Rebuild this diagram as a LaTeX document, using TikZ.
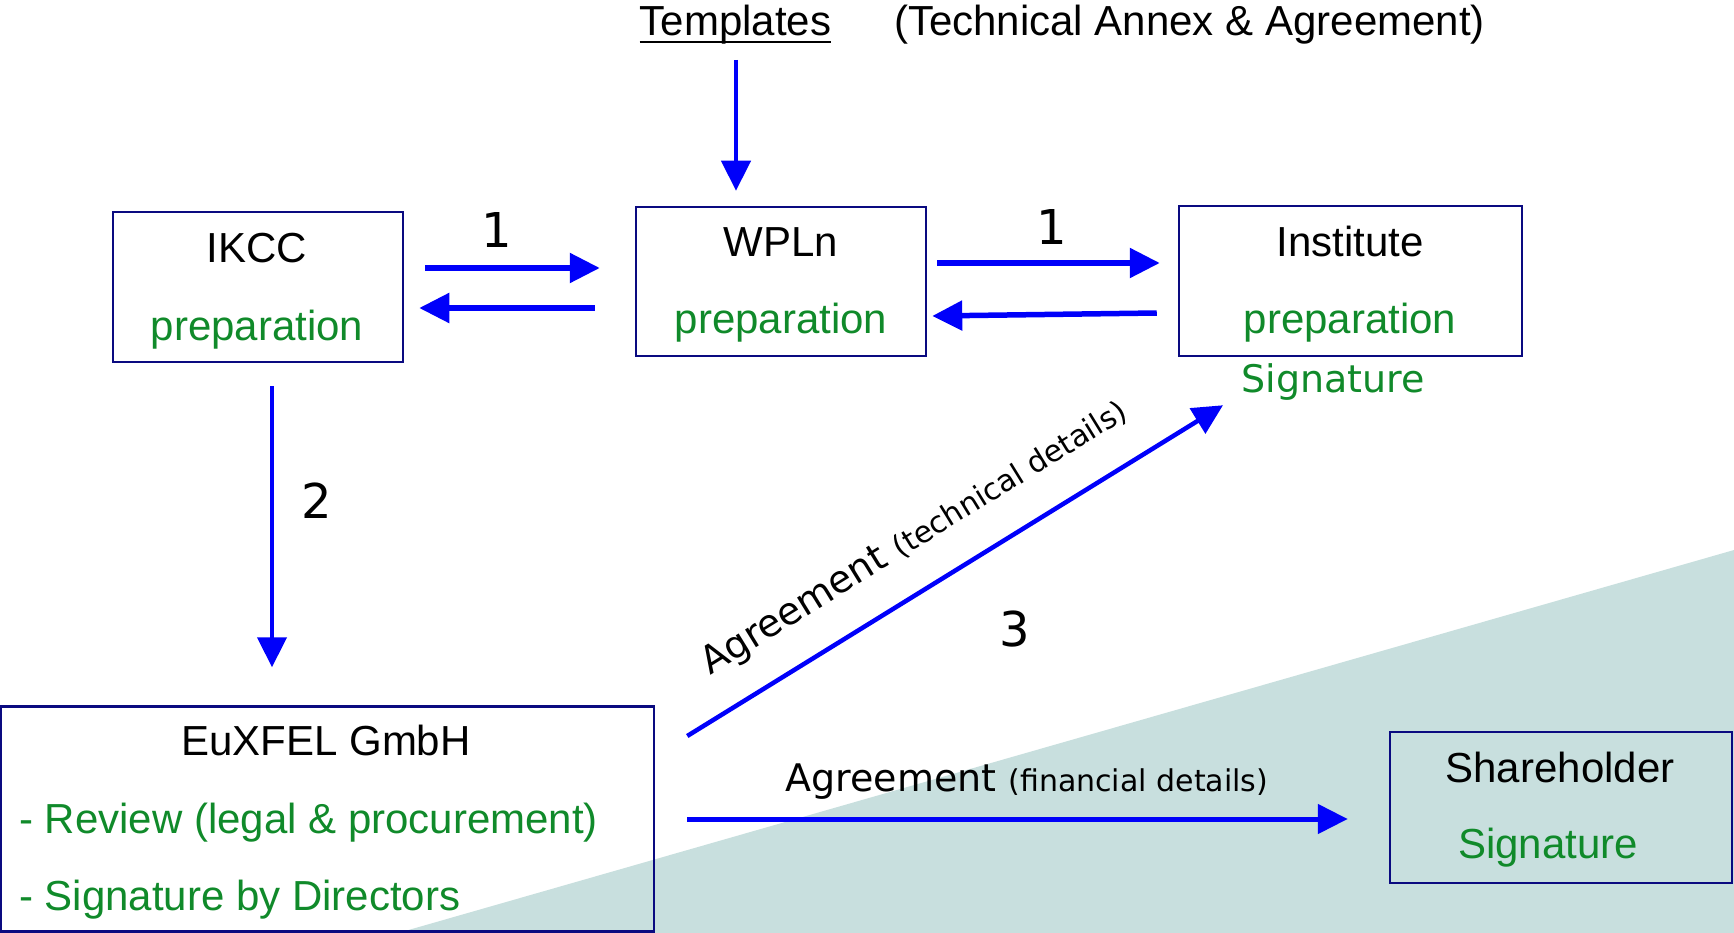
\documentclass[tikz,border=0pt]{standalone}
\usepackage{fontspec}
\setmainfont{Liberation Sans}
\newfontfamily\handfont{DejaVu Sans}
\usetikzlibrary{arrows.meta,calc}
\definecolor{navyline}{RGB}{10,10,128}
\definecolor{arrowblue}{RGB}{0,0,250}
\definecolor{textgreen}{RGB}{16,138,42}
\definecolor{tealbg}{RGB}{200,223,222}
\begin{document}
\begin{tikzpicture}[x=1pt,y=-1pt,
  box/.style={draw=navyline, line width=2.5pt, inner sep=0pt},
  txt/.style={font=\fontsize{42}{50}\selectfont, inner sep=0pt, anchor=base},
  grn/.style={txt, text=textgreen},
  hand/.style={font=\handfont\fontsize{38}{46}\selectfont, inner sep=0pt, anchor=base},
  num/.style={font=\handfont\fontsize{48}{56}\selectfont, inner sep=0pt, anchor=base},
  arr/.style={draw=arrowblue, line width=5.5pt, -{Triangle[length=30pt,width=29pt]}},
]
\useasboundingbox (0,0) rectangle (1734,933);
\fill[tealbg] (398,933) -- (1734,550) -- (1734,933) -- cycle;

% boxes
\node[box, minimum width=290pt, minimum height=150pt] (ikcc) at (258,287) {};
\node[box, minimum width=290pt, minimum height=149pt] (wpln) at (781,281.5) {};
\node[box, minimum width=343pt, minimum height=150pt] (inst) at (1350.5,281) {};
\node[box, minimum width=653pt, minimum height=225pt] (eux) at (327.5,819) {};
\node[box, minimum width=342pt, minimum height=151pt] (share) at (1561,807.5) {};

% box texts
\node[txt] (ikcct) at (257,263) {IKCC};
\node[grn] (ikccp) at (257,340) {preparation};
\node[txt] (wplnt) at (781,257) {WPLn};
\node[grn] (wplnp) at (781,333) {preparation};
\node[txt] (instt) at (1350,257) {Institute};
\node[grn] (instp) at (1350,333) {preparation};
\node[hand, text=textgreen] (instsig) at (1333,392) {Signature};
\node[txt] (euxt) at (326,755) {EuXFEL GmbH};
\node[grn, anchor=base west] (euxr) at (19,833) {- Review (legal \& procurement)};
\node[grn, anchor=base west] (euxs) at (19,910) {- Signature by Directors};
\node[txt] (sht) at (1560,782) {Shareholder};
\node[grn] (shs) at (1548,858) {Signature};

% header
\node[txt] (tmpl) at (735.5,36) {Templates};
\draw[line width=2.5pt] ($(tmpl.base west)+(0,6)$) -- ($(tmpl.base east)+(0,6)$);
\node[txt] (annex) at (1189.5,36) {(Technical Annex \& Agreement)};

% arrows
\draw[arr, line width=4.5pt] ($(tmpl.base)+(0.5,24)$) -- ($(wpln.north)+(-45,-15)$);
\draw[arr] ($(ikcc.east)+(21,-19)$) -- ($(wpln.west)+(-35,-13.5)$);
\draw[arr] ($(wpln.west)+(-40,26.5)$) -- ($(ikcc.east)+(15,21)$);
\draw[arr] ($(wpln.east)+(10,-18.5)$) -- ($(inst.west)+(-18,-18)$);
\draw[arr] ($(inst.west)+(-21,32)$) -- ($(wpln.east)+(5,34.5)$);
\draw[arr, line width=4.5pt] ($(ikcc.south)+(14,23)$) -- ($(eux.north)+(-55.5,-38)$);
\draw[arr, line width=4.5pt] ($(eux.east)+(32,-83)$) -- ($(inst.south)+(-127.5,48)$)
  node[pos=0.4725, sloped, above=29pt, font=\handfont\fontsize{38}{46}\selectfont, inner sep=0pt] (techlbl)
  {Agreement {\fontsize{30}{36}\selectfont(technical details)}};
\draw[arr, line width=5pt] ($(eux.east)+(32,0)$) -- ($(share.west)+(-41,11.5)$)
  node[pos=0.514, anchor=base, yshift=28pt, font=\handfont\fontsize{38}{46}\selectfont, inner sep=0pt] (finlbl)
  {Agreement {\fontsize{30}{36}\selectfont(financial details)}};

% numbers
\node[num] (n1a) at (497,248) {1};
\node[num] (n1b) at (1052,245) {1};
\node[num] (n2) at (317,518) {2};
\node[num] (n3) at (1015,646) {3};
\end{tikzpicture}
\end{document}
